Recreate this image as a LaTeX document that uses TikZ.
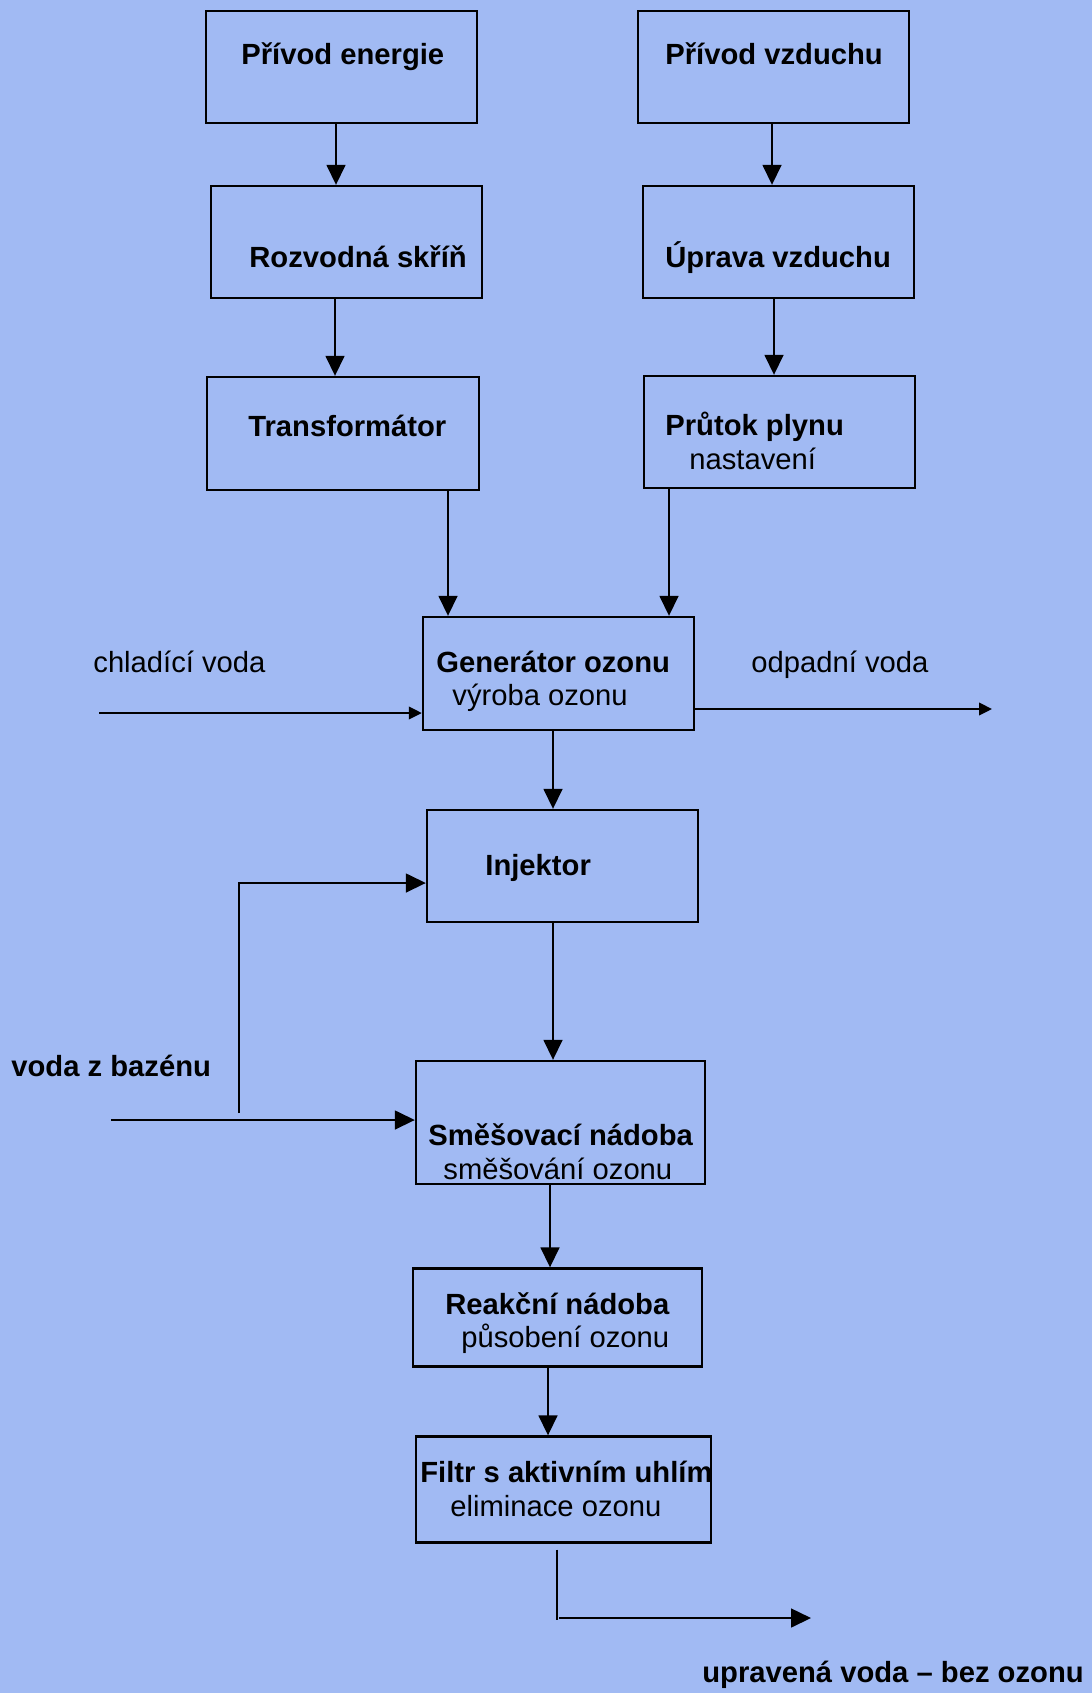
\documentclass[tikz,border=0pt]{standalone}
\usepackage{fontspec}
\setmainfont{Liberation Sans}
\usetikzlibrary{arrows.meta}
\definecolor{bg}{RGB}{161,186,243}

\begin{document}
\begin{tikzpicture}[x=0.5pt,y=-0.5pt,
  box/.style={draw,line width=1.2pt,minimum width=135.5pt,minimum height=56pt,inner sep=0pt},
  bt/.style={anchor=base west,inner sep=0pt,font=\fontsize{14.6}{17}\selectfont\bfseries},
  nt/.style={anchor=base west,inner sep=0pt,font=\fontsize{14.6}{17}\selectfont},
  arr/.style={line width=0.8pt,-{Triangle[length=10pt,width=9.5pt]}},
  arrs/.style={line width=1pt,-{Triangle[length=6.5pt,width=6.3pt]}}]
\fill[bg] (0,0) rectangle (1092,1693);
\useasboundingbox (0,0) rectangle (1092,1693);

\node [box] (pe) at (341.5,67) {};
\node [bt] (pe-t) at (241,64) {Přívod energie};
\node [box] (pv) at (773.5,67) {};
\node [bt] (pv-t) at (665,64) {Přívod vzduchu};
\node [box] (rs) at (346.5,242) {};
\node [bt] (rs-t) at (249,267) {Rozvodná skříň};
\node [box] (uv) at (778.5,242) {};
\node [bt] (uv-t) at (665,267) {Úprava vzduchu};
\node [box,minimum width=136pt,minimum height=56.5pt] (tr) at (343,433.5) {};
\node [bt] (tr-t) at (248,436) {Transformátor};
\node [box] (pp) at (779.5,432) {};
\node [bt] (pp-t) at (665,435) {Průtok plynu};
\node [nt] (pp-n) at (689,469) {nastavení};

\node [box,minimum height=56.5pt] (go) at (558.5,673.5) {};
\node [bt] (go-t) at (436,672) {Generátor ozonu};
\node [nt] (go-n) at (452,705) {výroba ozonu};
\node [box] (in) at (562.5,866) {};
\node [bt] (in-t) at (485,875) {Injektor};
\node [box,minimum width=144.5pt,minimum height=61.5pt] (sn) at (560.5,1122.5) {};
\node [bt] (sn-t) at (428,1145) {Směšovací nádoba};
\node [nt] (sn-n) at (443,1179) {směšování ozonu};
\node [box,minimum width=144.5pt,minimum height=49pt] (rn) at (557.5,1317.5) {};
\node [bt] (rn-t) at (445,1314) {Reakční nádoba};
\node [nt] (rn-n) at (461,1347) {působení ozonu};
\node [box,minimum width=147.5pt,minimum height=53pt] (fa) at (563.5,1489.5) {};
\node [bt] (fa-t) at (420,1482) {Filtr s aktivním uhlím};
\node [nt] (fa-n) at (450,1516) {eliminace ozonu};

\node [nt] (cw-t) at (93,672) {chladící voda};
\node [nt] (ow-t) at (751,672) {odpadní voda};
\node [bt] (vb-t) at (11,1076) {voda z bazénu};
\node [bt] (out-t) at (702,1682) {upravená voda – bez ozonu};

\coordinate (cw) at (99,713);
\coordinate (ow) at (992,709);
\coordinate (vb) at (111,1120);
\coordinate (vbt) at (239,1113);
\coordinate (ij) at (239,883);
\coordinate (ov) at (557,1620);
\coordinate (oe) at (811,1618);

\draw [arr] (pe.south -| 336,0) -- (rs.north -| 336,0);
\draw [arr] (pv.south -| 772,0) -- (uv.north -| 772,0);
\draw [arr] (rs.south -| 335,0) -- (tr.north -| 335,0);
\draw [arr] (uv.south -| 774,0) -- (pp.north -| 774,0);
\draw [arr] (tr.south -| 448,0) -- (go.north -| 448,0);
\draw [arr] (pp.south -| 669,0) -- (go.north -| 669,0);
\draw [arr] (go.south -| 553,0) -- (in.north -| 553,0);
\draw [arr] (in.south -| 553,0) -- (sn.north -| 553,0);
\draw [arr] (sn.south -| 550,0) -- (rn.north -| 550,0);
\draw [arr] (rn.south -| 548,0) -- (fa.north -| 548,0);

\draw [arrs] (cw) -- (cw -| go.west);
\draw [arrs] (ow -| go.east) -- (ow);
\draw [arr] (vb) -- (vb -| sn.west);
\draw [arr] (vbt) -- (ij) -- (ij -| in.west);
\draw [line width=0.8pt] ([yshift=-3pt]fa.south -| ov) -- (ov);
\draw [arr] ([xshift=1pt]ov |- oe) -- (oe);
\end{tikzpicture}
\end{document}
